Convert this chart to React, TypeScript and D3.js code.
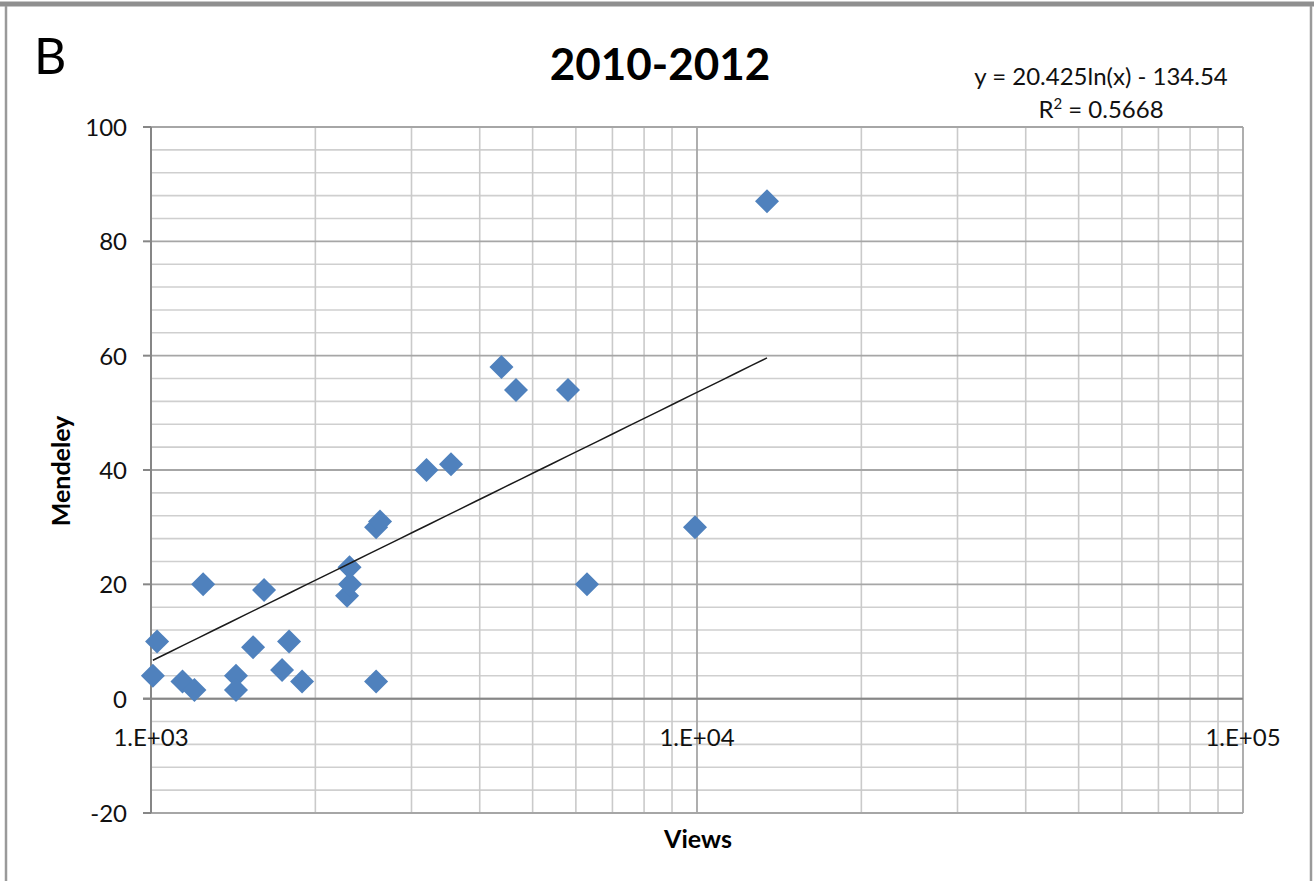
import * as d3 from "d3";

// Views (x, log axis) and Mendeley readers (y)
const views = [
  1008, 1026, 1142, 1201, 1246, 1431, 1431, 1538, 1611, 1738, 1790, 1891,
  2286, 2315, 2310, 2584, 2584, 2627, 3196, 3544, 4384, 4661, 5804, 6288,
  9916, 13434,
];
const mendeley = [
  4, 10, 3, 1.5, 20, 4, 1.5, 9, 19, 5, 10, 3, 18, 20, 23, 3, 30, 31, 40, 41,
  58, 54, 54, 20, 30, 87,
];

const xTicks = [1e3, 1e4, 1e5];
const xTickLabels = ["1.E+03", "1.E+04", "1.E+05"];
const yTicks = [-20, 0, 20, 40, 60, 80, 100];

// trendline from the figure's label: y = 20.425ln(x) - 134.54
const trendSlope = 20.425;
const trendIntercept = -134.54;
const equationLabel = "y = 20.425ln(x) - 134.54";
const r2Label = "0.5668";

const W = 1314;
const H = 881;
const font = "Lato, 'Open Sans', sans-serif";

export default function App() {
  const x = d3.scaleLog().domain([1e3, 1e5]).range([151, 1243]);
  const y = d3.scaleLinear().domain([-20, 100]).range([813, 127]);

  const minorX: number[] = [];
  for (const d of [1e3, 1e4]) for (let k = 2; k <= 9; k++) minorX.push(k * d);
  const minorY = d3.range(-20, 101, 4).filter((v) => v % 20 !== 0);

  const points = views.map((v, i) => ({ v, m: mendeley[i] }));
  const [x0, x1] = d3.extent(views) as [number, number];
  const trend = d3.range(0, 41).map((i) => {
    const xv = x0 * Math.pow(x1 / x0, i / 40);
    return [xv, trendSlope * Math.log(xv) + trendIntercept] as [number, number];
  });
  const line = d3
    .line<[number, number]>()
    .x((d) => x(d[0]))
    .y((d) => y(d[1]));

  const diamond = d3.symbol().type(d3.symbolSquare).size(289)() as string;

  const [left, right] = x.range();
  const [bottom, top] = y.range();

  return (
    <svg
      width={W}
      height={H}
      style={{ position: "absolute", left: 0, top: 0, background: "#fff" }}
      fontFamily={font}
    >
      {/* outer frame */}
      <line x1={0} x2={W} y1={4} y2={4} stroke="#8f8f8f" strokeWidth={5} />
      <line x1={6} x2={6} y1={6} y2={H} stroke="#9a9a9a" strokeWidth={2.5} />
      <line x1={1311} x2={1311} y1={6} y2={H} stroke="#9a9a9a" strokeWidth={2.5} />

      {/* grid */}
      {minorY.map((v) => (
        <line key={"my" + v} x1={left} x2={right} y1={y(v)} y2={y(v)} stroke="#cfcfcf" strokeWidth={1.6} />
      ))}
      {minorX.map((v) => (
        <line key={"mx" + v} x1={x(v)} x2={x(v)} y1={top} y2={bottom} stroke="#cacaca" strokeWidth={1.6} />
      ))}
      {yTicks.map((v) => (
        <line key={"gy" + v} x1={left} x2={right} y1={y(v)} y2={y(v)} stroke="#a6a6a6" strokeWidth={1.8} />
      ))}
      {xTicks.map((v) => (
        <line key={"gx" + v} x1={x(v)} x2={x(v)} y1={top} y2={bottom} stroke="#a6a6a6" strokeWidth={1.8} />
      ))}

      {/* axes */}
      <line x1={left} x2={left} y1={top} y2={bottom} stroke="#868686" strokeWidth={2} />
      <line x1={left - 8} x2={right} y1={y(0)} y2={y(0)} stroke="#868686" strokeWidth={2} />
      {yTicks.map((v) => (
        <g key={"ty" + v}>
          <line x1={left - 8} x2={left} y1={y(v)} y2={y(v)} stroke="#868686" strokeWidth={2} />
          <text x={127} y={y(v) + 9} textAnchor="end" fontSize={24} fill="#111">
            {v}
          </text>
        </g>
      ))}
      {xTicks.map((v, i) => (
        <text key={"tx" + v} x={x(v)} y={746} textAnchor="middle" fontSize={24} fill="#111">
          {xTickLabels[i]}
        </text>
      ))}

      {/* points */}
      {points.map((p, i) => (
        <path
          key={i}
          d={diamond}
          transform={`translate(${x(p.v)},${y(p.m)}) rotate(45)`}
          fill="#4f81bd"
        />
      ))}

      {/* trendline */}
      <path d={line(trend) ?? ""} fill="none" stroke="#1a1a1a" strokeWidth={1.5} />

      {/* labels */}
      <text x={34} y={74} fontSize={50} fill="#000">
        B
      </text>
      <text x={660} y={80} textAnchor="middle" fontSize={44} fontWeight={700} fill="#000">
        2010-2012
      </text>
      <text x={1101} y={85} textAnchor="middle" fontSize={24} fill="#111">
        {equationLabel}
      </text>
      <text x={1101} y={118} textAnchor="middle" fontSize={24} fill="#111">
        R<tspan fontSize={15} dy={-9}>2</tspan>
        <tspan dy={9}>{" = " + r2Label}</tspan>
      </text>
      <text
        transform={`translate(70,471) rotate(-90)`}
        textAnchor="middle"
        fontSize={25}
        fontWeight={700}
        fill="#000"
      >
        Mendeley
      </text>
      <text x={698} y={848} textAnchor="middle" fontSize={25} fontWeight={700} fill="#000">
        Views
      </text>
    </svg>
  );
}
